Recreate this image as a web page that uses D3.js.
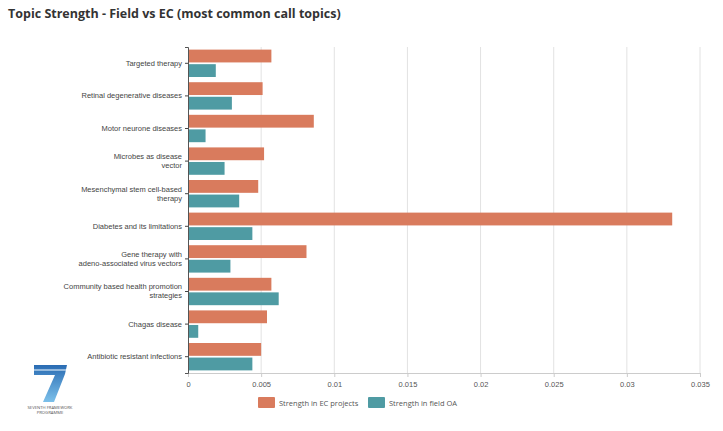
<!DOCTYPE html>
<html>
<head>
<meta charset="utf-8">
<script src="https://cdn.jsdelivr.net/npm/d3@7/dist/d3.min.js"></script>
<style>
  html, body { margin: 0; padding: 0; background: #fff; }
  svg { display: block; font-family: "Open Sans", "Noto Sans", sans-serif; }
</style>
</head>
<body>
<svg id="chart" width="723" height="431"></svg>
<script>
// Topic names (multi-line labels split with "\n")
const topics = [
  "Targeted therapy",
  "Retinal degenerative diseases",
  "Motor neurone diseases",
  "Microbes as disease\nvector",
  "Mesenchymal stem cell-based\ntherapy",
  "Diabetes and its limitations",
  "Gene therapy with\nadeno-associated virus vectors",
  "Community based health promotion\nstrategies",
  "Chagas disease",
  "Antibiotic resistant infections"
];
// Strength of each topic in EC projects
const ecStrength = [0.0057, 0.0051, 0.0086, 0.0052, 0.0048, 0.0331, 0.0081, 0.0057, 0.0054, 0.0050];
// Strength of each topic in the field
const fieldStrength = [0.0019, 0.0030, 0.0012, 0.0025, 0.0035, 0.0044, 0.0029, 0.0062, 0.0007, 0.0044];
const xTicks = [0, 0.005, 0.01, 0.015, 0.02, 0.025, 0.03, 0.035];
const xTickLabels = ["0", "0.005", "0.01", "0.015", "0.02", "0.025", "0.03", "0.035"];
const seriesNames = ["Strength in EC projects", "Strength in field OA"];
const seriesColors = ["#d97b5d", "#4f9ba3"];

const svg = d3.select("#chart");
const margin = { top: 47, right: 23, bottom: 58, left: 188 };
const width = 723 - margin.left - margin.right;
const height = 431 - margin.top - margin.bottom;

svg.append("text")
  .attr("x", 8).attr("y", 18)
  .attr("font-size", 12.5).attr("font-weight", "bold").attr("fill", "#333")
  .text("Topic Strength - Field vs EC (most common call topics)");

const g = svg.append("g").attr("transform", `translate(${margin.left},${margin.top})`);

const x = d3.scaleLinear().domain([0, 0.035]).range([0, width]);
const y = d3.scaleBand().domain(topics).range([0, height]).paddingInner(0.16).paddingOuter(0.08);
const ySub = d3.scaleBand().domain([0, 1]).range([0, y.bandwidth()]).paddingInner(0.12);

// vertical gridlines
g.append("g").selectAll("line").data(xTicks.slice(1)).join("line")
  .attr("x1", d => x(d)).attr("x2", d => x(d))
  .attr("y1", 0).attr("y2", height)
  .attr("stroke", "#e2e2e2").attr("stroke-width", 1);

// x axis
const xAxis = g.append("g").attr("transform", `translate(0,${height})`)
  .call(d3.axisBottom(x).tickValues(xTicks).tickFormat((d, i) => xTickLabels[i]).tickSize(4));
xAxis.select(".domain").attr("stroke", "#ccc");
xAxis.selectAll(".tick line").attr("stroke", "#ccc");
xAxis.selectAll("text").attr("fill", "#555").attr("font-size", 7.5).attr("dy", "0.9em");

// bars
const rows = g.append("g").selectAll("g").data(topics).join("g")
  .attr("transform", d => `translate(0,${y(d)})`);
rows.append("rect")
  .attr("x", 0).attr("y", ySub(0)).attr("height", ySub.bandwidth())
  .attr("width", (d, i) => x(ecStrength[i]))
  .attr("fill", seriesColors[0]);
rows.append("rect")
  .attr("x", 0).attr("y", ySub(1)).attr("height", ySub.bandwidth())
  .attr("width", (d, i) => x(fieldStrength[i]))
  .attr("fill", seriesColors[1]);

// y axis
const yAxis = g.append("g").call(d3.axisLeft(y).tickSize(3).tickFormat(""));
yAxis.select(".domain").attr("stroke", "#555");
yAxis.selectAll(".tick line").attr("stroke", "#444");
yAxis.selectAll(".tick").each(function (d) {
  const lines = d.split("\n");
  const t = d3.select(this).append("text")
    .attr("x", -6).attr("text-anchor", "end")
    .attr("font-size", 7.5).attr("fill", "#444");
  lines.forEach((ln, k) => {
    t.append("tspan").attr("x", -6)
      .attr("y", (k - (lines.length - 1) / 2) * 9)
      .attr("dy", "0.32em").text(ln);
  });
});

// legend
const legend = svg.append("g").attr("transform", "translate(258,397)");
const legendX = [0, 110];
seriesNames.forEach((name, i) => {
  const lg = legend.append("g").attr("transform", `translate(${legendX[i]},0)`);
  lg.append("rect").attr("width", 17).attr("height", 11).attr("rx", 1).attr("fill", seriesColors[i]);
  lg.append("text").attr("x", 21).attr("y", 8.5).attr("font-size", 7.5).attr("fill", "#555").text(name);
});

// programme logo, bottom left
const logo = svg.append("g").attr("transform", "translate(24,362)");
const grad = svg.append("defs").append("linearGradient").attr("id", "lg7")
  .attr("x1", 0).attr("y1", 0).attr("x2", 0).attr("y2", 1);
grad.append("stop").attr("offset", 0).attr("stop-color", "#2a6cb3");
grad.append("stop").attr("offset", 1).attr("stop-color", "#7cc0ea");
logo.append("path")
  .attr("d", "M10,3 L43,3 L41,12 L30,40 L19,40 L31,13 L10,13 Z")
  .attr("fill", "url(#lg7)");
logo.append("path")
  .attr("d", "M10,8 L42,8")
  .attr("stroke", "#d6e8f7").attr("stroke-width", 1.2);
logo.append("text").attr("x", 26).attr("y", 47).attr("text-anchor", "middle")
  .attr("font-size", 4.2).attr("fill", "#555").text("SEVENTH FRAMEWORK");
logo.append("text").attr("x", 26).attr("y", 52).attr("text-anchor", "middle")
  .attr("font-size", 4.2).attr("fill", "#555").text("PROGRAMME");
</script>
</body>
</html>
